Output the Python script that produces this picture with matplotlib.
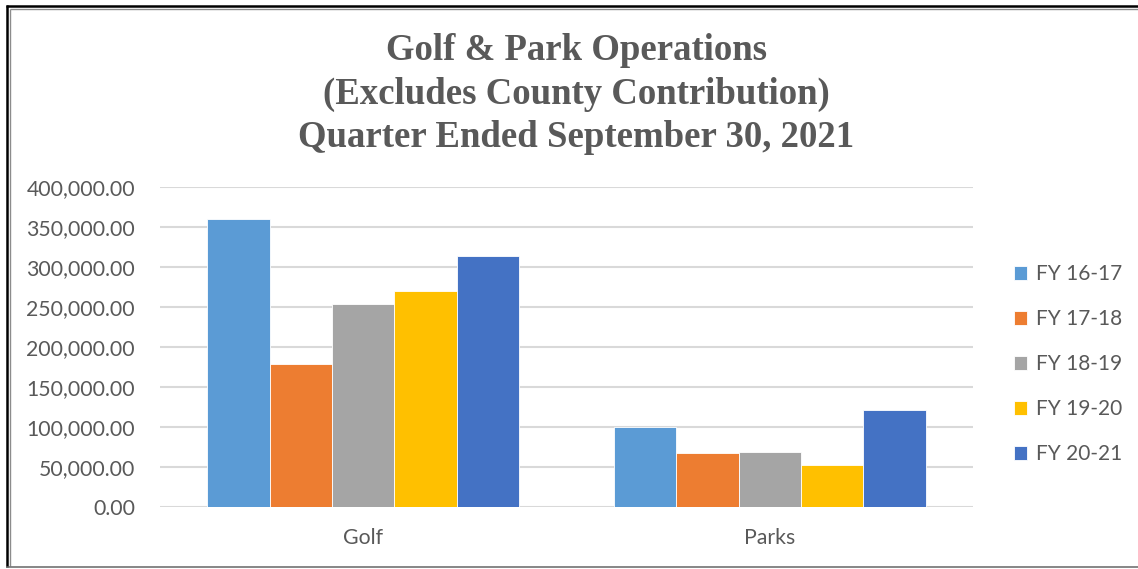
import matplotlib.pyplot as plt
import numpy as np
from matplotlib.lines import Line2D
from matplotlib.ticker import FuncFormatter

categories = ["Golf", "Parks"]
series = ["FY 16-17", "FY 17-18", "FY 18-19", "FY 19-20", "FY 20-21"]
golf = [360000, 179000, 253500, 269500, 314000]
parks = [100000, 67000, 68500, 52000, 121000]
yticks = [0, 50000, 100000, 150000, 200000, 250000, 300000, 350000, 400000]

COLORS = ["#5B9BD5", "#ED7D31", "#A5A5A5", "#FFC000", "#4472C4"]
TEXT = "#595959"
GRID = "#D9D9D9"
W, H = 1138, 569

fig = plt.figure(figsize=(W / 100, H / 100), dpi=100)
ax = fig.add_axes([160 / W, 62 / H, 813 / W, 320 / H])

values = np.array([golf, parks]).T  # rows = series
x = np.arange(len(categories))
bw = 0.768 / len(series)
for i, (name, vals) in enumerate(zip(series, values)):
    offs = (i - (len(series) - 1) / 2) * bw
    ax.bar(x + offs, vals, width=bw, color=COLORS[i], edgecolor="white",
           linewidth=0.6, label=name, zorder=3)

ax.set_xlim(-0.5, 1.5)
ax.set_ylim(0, 400000)
ax.set_yticks(yticks)
ax.yaxis.set_major_formatter(FuncFormatter(lambda v, p: f"{v:,.2f}"))
ax.set_xticks(x)
ax.set_xticklabels(categories)
ax.grid(axis="y", color=GRID, linewidth=1.5, zorder=0)
ax.set_axisbelow(True)
for s in ax.spines.values():
    s.set_visible(False)
ax.tick_params(axis="both", length=0, colors=TEXT, labelsize=15.3)
ax.tick_params(axis="y", pad=18)
ax.tick_params(axis="x", pad=15)
for lbl in ax.get_xticklabels() + ax.get_yticklabels():
    lbl.set_fontfamily("Lato")

leg = ax.legend(loc="center left", bbox_to_anchor=(995 / W, 1 - 364 / H),
                bbox_transform=fig.transFigure, frameon=False,
                prop={"family": "Lato", "size": 15}, handlelength=0.65,
                handleheight=0.65, handletextpad=0.4, labelspacing=1.2)
for t in leg.get_texts():
    t.set_color(TEXT)

fig.text(576 / W, 1 - 94 / H,
         "Golf & Park Operations\n(Excludes County Contribution)\nQuarter Ended September 30, 2021",
         ha="center", va="center", family="Liberation Serif", weight="bold",
         fontsize=26.5, color=TEXT, linespacing=1.3)


def px_line(xs, ys, color, lw):
    fig.add_artist(Line2D([v / W for v in xs], [1 - v / H for v in ys],
                          transform=fig.transFigure, color=color,
                          linewidth=lw, solid_capstyle="butt"))


# outer frame (open on the right, like the cropped source)
px_line([7, 7], [5, 567], "black", 1.8)
px_line([6, W], [6, 6], "black", 1.8)
px_line([9.8, 9.8], [8.5, 566], "#8C8C8C", 1.0)
px_line([9.8, W], [8.8, 8.8], "#8C8C8C", 1.0)
px_line([6, W], [566.5, 566.5], "#666666", 1.1)

fig.savefig("out.png", dpi=100, facecolor="white")
